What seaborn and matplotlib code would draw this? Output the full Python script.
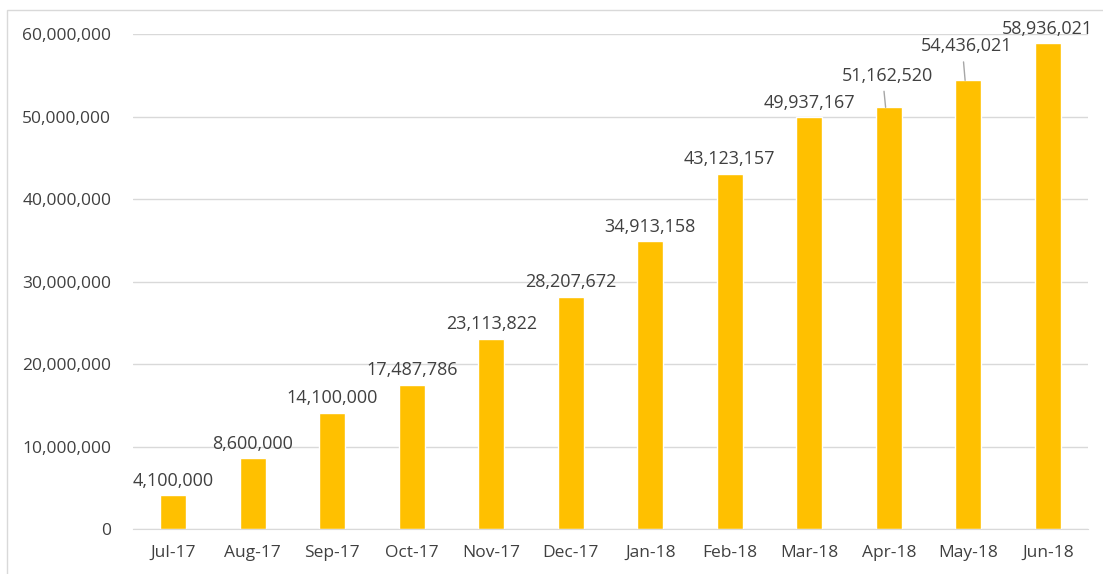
import matplotlib.pyplot as plt
import seaborn as sns
import pandas as pd

months = ['Jul-17', 'Aug-17', 'Sep-17', 'Oct-17', 'Nov-17', 'Dec-17',
          'Jan-18', 'Feb-18', 'Mar-18', 'Apr-18', 'May-18', 'Jun-18']
values = [4100000, 8600000, 14100000, 17487786, 23113822, 28207672,
          34913158, 43123157, 49937167, 51162520, 54436021, 58936021]
yticks = [0, 10000000, 20000000, 30000000, 40000000, 50000000, 60000000]

df = pd.DataFrame({'month': months, 'value': values})

sns.set_style('white')
plt.rcParams['font.family'] = ['Open Sans', 'DejaVu Sans']
txt = '#404040'

fig = plt.figure(figsize=(11.03, 5.74), dpi=100)
ax = fig.add_axes([0.121, 0.078, 0.865, 0.862])

sns.barplot(data=df, x='month', y='value', color='#FFC000', width=0.33,
            saturation=1, ax=ax)

ax.set_ylim(0, 60000000)
ax.set_yticks(yticks)
ax.set_yticklabels([f'{v:,}' for v in yticks], color=txt, fontsize=12.5)
ax.yaxis.grid(True, color='#d9d9d9', linewidth=1)
ax.set_axisbelow(True)
ax.tick_params(axis='x', colors=txt, labelsize=12.5, length=0, pad=11)
ax.tick_params(axis='y', length=0, pad=16)
ax.set_xlabel('')
ax.set_ylabel('')
for s in ['top', 'right', 'left']:
    ax.spines[s].set_visible(False)
ax.spines['bottom'].set_color('#d9d9d9')

# data labels (Apr/May lifted with leader lines, like the original)
lifted = {'Apr-18': 2700000, 'May-18': 3100000}
for i, (m, v) in enumerate(zip(months, values)):
    if m in lifted:
        lift = lifted[m]
        ax.annotate('', xy=(i - 0.04, v), xytext=(i - 0.06, v + lift * 0.72),
                    arrowprops=dict(arrowstyle='-', color='#a6a6a6', lw=1,
                                    shrinkA=0, shrinkB=0),
                    annotation_clip=False)
        ax.text(i - 0.02, v + lift, f'{v:,}', ha='center', va='bottom',
                fontsize=13, color=txt)
    else:
        ax.annotate(f'{v:,}', xy=(i, v), xytext=(0, 4), textcoords='offset points',
                    ha='center', va='bottom', fontsize=13, color=txt,
                    annotation_clip=False)

# thin chart border
fig.patches.append(plt.Rectangle((0.006, -0.01), 1.0, 0.993, transform=fig.transFigure,
                                 fill=False, edgecolor='#d9d9d9', lw=1))

fig.savefig('out.png', dpi=100)
